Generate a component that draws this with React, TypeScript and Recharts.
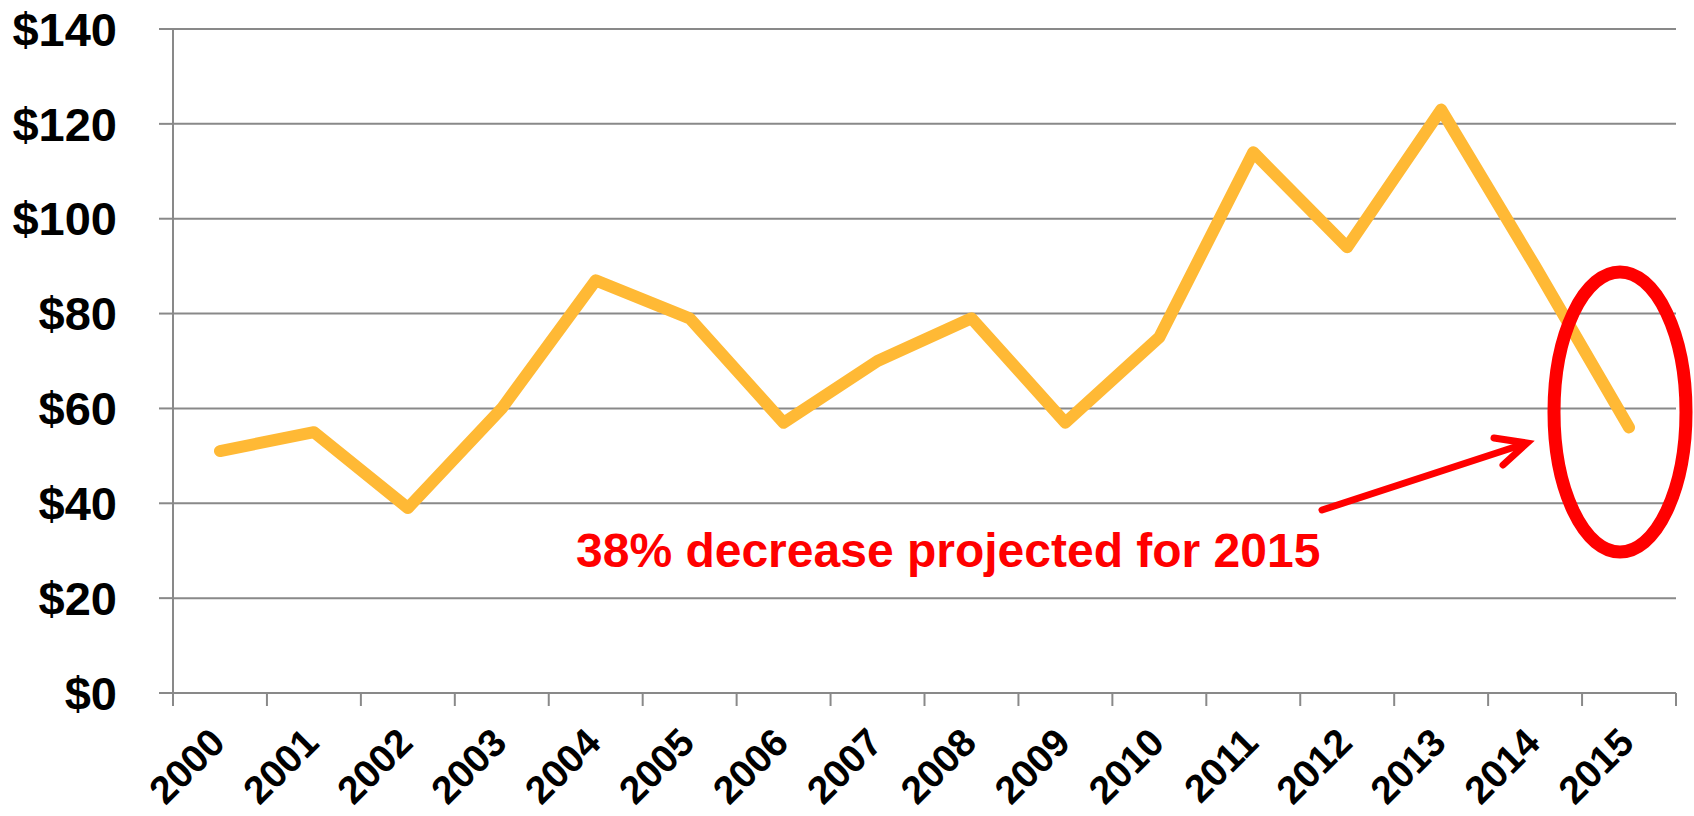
import React from 'react';
import { LineChart, Line, XAxis, YAxis, CartesianGrid } from 'recharts';

// Valores anuales
const years = ['2000', '2001', '2002', '2003', '2004', '2005', '2006', '2007', '2008', '2009', '2010', '2011', '2012', '2013', '2014', '2015'];
const values = [51, 55, 39, 60, 87, 79, 57, 70, 79, 57, 75, 114, 94, 123, 90, 56];
const yTicks = [0, 20, 40, 60, 80, 100, 120, 140];
const note = '38% decrease projected for 2015';

const W = 1694;
const H = 816;
const M = { top: 29, right: 18, bottom: 0, left: 0 };
const Y_W = 173;
const X_H = 123;
const band = (W - M.right - Y_W) / years.length;

const data = years.map((y, i) => ({ pos: i + 0.5, year: y, value: values[i] }));
const bounds = years.map((_, i) => i).concat(years.length);

const FONT = "'Liberation Sans', Arial, sans-serif";
const GRID = '#898989';

const YearTick = (props: any) => {
  const { x, y, payload } = props;
  const label = years[payload.value];
  if (!label) return null;
  return (
    <g transform={`translate(${x + band / 2 + 7},${y + 39})`}>
      <text textAnchor="end" transform="rotate(-45)" fontFamily={FONT} fontWeight="bold" fontSize={39} fill="#000">
        {label}
      </text>
    </g>
  );
};

export default function App() {
  return (
    <div style={{ position: 'absolute', left: 0, top: 0, width: W, height: H, background: '#fff' }}>
      <LineChart width={W} height={H} data={data} margin={M}>
        <CartesianGrid horizontal vertical={false} stroke={GRID} strokeWidth={2} />
        <XAxis
          dataKey="pos"
          type="number"
          domain={[0, years.length]}
          ticks={bounds}
          interval={0}
          height={X_H}
          stroke={GRID}
          strokeWidth={2}
          tickSize={13}
          tickMargin={0}
          tick={<YearTick />}
        />
        <YAxis
          domain={[0, 140]}
          ticks={yTicks}
          width={Y_W}
          stroke={GRID}
          strokeWidth={2}
          tickSize={14}
          tickMargin={42}
          tickFormatter={(v: number) => `$${v}`}
          tick={{ fill: '#000', fontFamily: FONT, fontWeight: 'bold', fontSize: 47 }}
        />
        <Line
          type="linear"
          dataKey="value"
          stroke="#FFB935"
          strokeWidth={12}
          strokeLinecap="round"
          strokeLinejoin="round"
          dot={false}
          activeDot={false}
          isAnimationActive={false}
        />
      </LineChart>
      <svg width={W} height={H} style={{ position: 'absolute', left: 0, top: 0, pointerEvents: 'none' }}>
        <ellipse cx={1620} cy={412} rx={66} ry={140} fill="none" stroke="#FF0000" strokeWidth={13} />
        <g stroke="#FF0000" strokeWidth={7} strokeLinecap="round" fill="none">
          <line x1={1322} y1={510} x2={1524} y2={444} />
          <polyline points="1494,438 1527,443 1503,465" strokeLinejoin="miter" />
        </g>
        <text x={576} y={567} fontFamily={FONT} fontWeight="bold" fontSize={48} fill="#FF0000">
          {note}
        </text>
      </svg>
    </div>
  );
}
